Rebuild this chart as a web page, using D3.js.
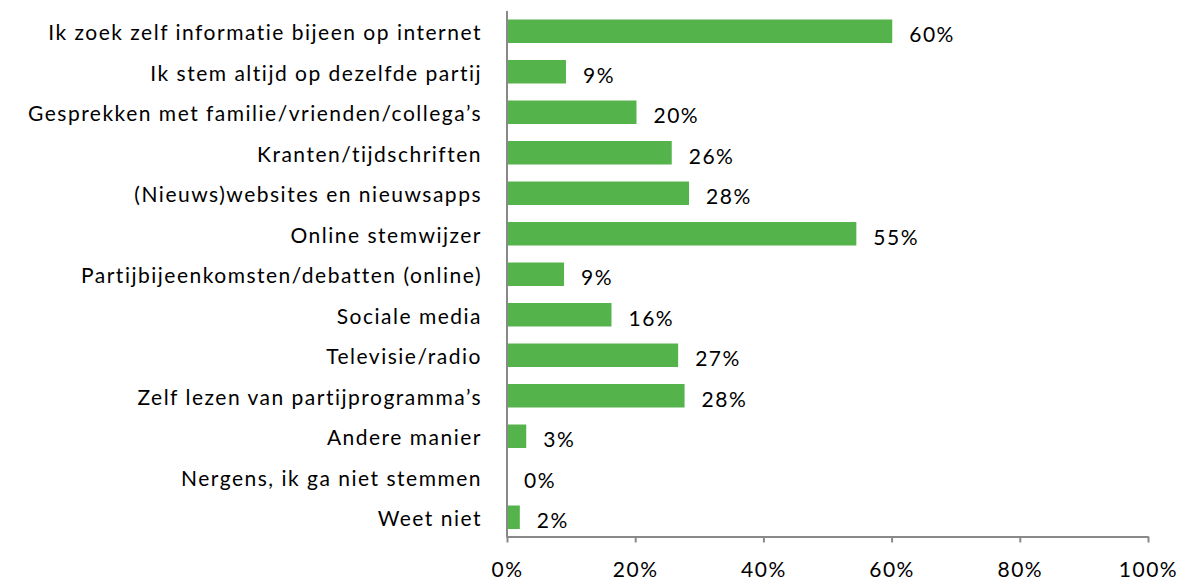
<!DOCTYPE html>
<html>
<head>
<meta charset="utf-8">
<script src="https://cdn.jsdelivr.net/npm/d3@7"></script>
<style>
    body { margin: 0; background: #fff; }
    svg { display: block; font-family: Lato, "Open Sans", sans-serif; font-variant-ligatures: none; }
    svg text { letter-spacing: 1.5px; }
</style>
</head>
<body>
<svg id="chart"></svg>
<script>
'use strict';

const categories = [
    "Ik zoek zelf informatie bijeen op internet",
    "Ik stem altijd op dezelfde partij",
    "Gesprekken met familie/vrienden/collega’s",
    "Kranten/tijdschriften",
    "(Nieuws)websites en nieuwsapps",
    "Online stemwijzer",
    "Partijbijeenkomsten/debatten (online)",
    "Sociale media",
    "Televisie/radio",
    "Zelf lezen van partijprogramma’s",
    "Andere manier",
    "Nergens, ik ga niet stemmen",
    "Weet niet"
];

const values = [60.1, 9.2, 20.2, 25.7, 28.4, 54.5, 8.9, 16.3, 26.7, 27.7, 3.0, 0, 2.0];
const valueLabels = ["60%", "9%", "20%", "26%", "28%", "55%", "9%", "16%", "27%", "28%", "3%", "0%", "2%"];

const tickValues = [0, 20, 40, 60, 80, 100];

function getChartConfig() {
    let width = 1180, height = 582;
    let margin = { top: 11, right: 32, bottom: 45, left: 507 };

    let svg = d3.select("#chart")
        .attr("width", width)
        .attr("height", height);

    return { svg, width, height, margin }
}

function getScales(config) {
    let { margin } = config;

    let xScale = d3.scaleLinear()
        .domain([0, 100])
        .range([margin.left, margin.left + 641]);

    let yScale = d3.scaleBand()
        .domain(categories)
        .range([margin.top, 537.5])
        .paddingInner(0.42)
        .paddingOuter(0.21);

    return { xScale, yScale }
}

function drawBars(config, scales) {
    let { svg } = config;
    let { xScale, yScale } = scales;

    let rows = categories.map((c, i) => ({ cat: c, value: values[i], label: valueLabels[i] }));

    svg.append("g")
        .selectAll("rect")
        .data(rows)
        .enter()
        .append("rect")
        .attr("x", xScale(0))
        .attr("y", d => yScale(d.cat))
        .attr("width", d => xScale(d.value) - xScale(0))
        .attr("height", yScale.bandwidth())
        .attr("fill", "#54b34b");

    // value labels right of the bars
    svg.append("g")
        .selectAll("text")
        .data(rows)
        .enter()
        .append("text")
        .attr("x", d => xScale(d.value) + 17)
        .attr("y", d => yScale(d.cat) + yScale.bandwidth() / 2 + 11)
        .style("font-size", "21px")
        .style("fill", "#000")
        .text(d => d.label);
}

function drawAxes(config, scales) {
    let { svg } = config;
    let { xScale, yScale } = scales;
    let axisColor = "#898989";

    // category axis
    let yAxis = d3.axisLeft(yScale).tickSize(0).tickPadding(25);
    let gy = svg.append("g")
        .attr("transform", "translate(" + xScale(0) + ",0)")
        .call(yAxis);
    gy.select(".domain").remove();
    gy.selectAll("text")
        .attr("dy", null)
        .attr("y", 9)
        .style("font-size", "21px")
        .style("font-family", "Lato, sans-serif")
        .style("fill", "#000");

    svg.append("line")
        .attr("x1", xScale(0)).attr("x2", xScale(0))
        .attr("y1", 11).attr("y2", 537.5)
        .style("stroke", axisColor)
        .style("stroke-width", 2);

    // value axis
    let xAxis = d3.axisBottom(xScale)
        .tickValues(tickValues)
        .tickFormat(d => d + "%")
        .tickSize(6)
        .tickSizeOuter(0)
        .tickPadding(20);
    let gx = svg.append("g")
        .attr("transform", "translate(0,536.5)")
        .call(xAxis);
    gx.select(".domain").style("stroke", axisColor).style("stroke-width", 2);
    gx.selectAll(".tick line").style("stroke", axisColor).style("stroke-width", 2);
    gx.selectAll("text")
        .attr("dy", "0.7em")
        .style("font-size", "21px")
        .style("font-family", "Lato, sans-serif")
        .style("fill", "#000");
}

function drawChart() {
    let config = getChartConfig();
    let scales = getScales(config);
    drawBars(config, scales);
    drawAxes(config, scales);
}

drawChart();
</script>
</body>
</html>
